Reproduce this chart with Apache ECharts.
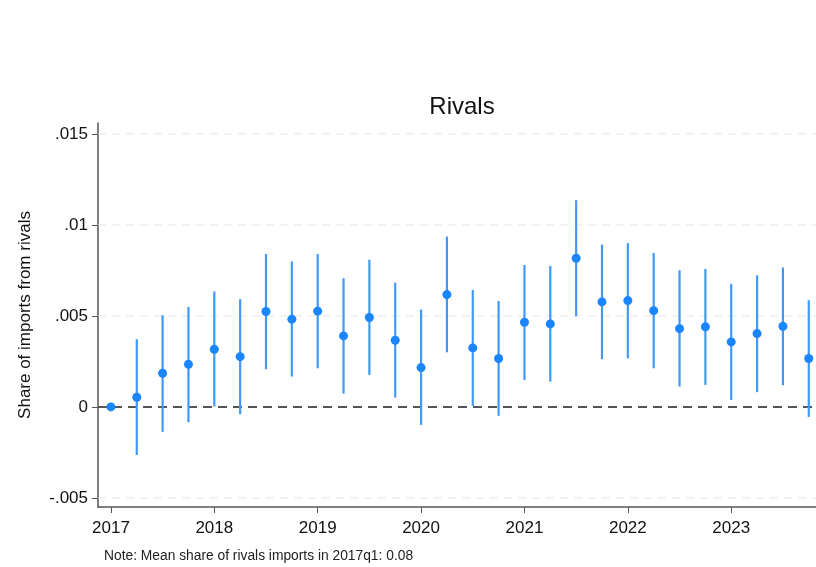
<!DOCTYPE html>
<html>
<head>
<meta charset="utf-8">
<script src="https://cdn.jsdelivr.net/npm/echarts@6/dist/echarts.min.js"></script>
<style>
  html, body { margin: 0; padding: 0; background: #fff; }
  #chart { width: 816px; height: 567px; }
</style>
</head>
<body>
<div id="chart"></div>
<script>
// quarters 2017q1 .. 2023q4 as decimal years
var quarters = [
  2017.00, 2017.25, 2017.50, 2017.75,
  2018.00, 2018.25, 2018.50, 2018.75,
  2019.00, 2019.25, 2019.50, 2019.75,
  2020.00, 2020.25, 2020.50, 2020.75,
  2021.00, 2021.25, 2021.50, 2021.75,
  2022.00, 2022.25, 2022.50, 2022.75,
  2023.00, 2023.25, 2023.50, 2023.75
];
// point estimates
var coef = [
  0.0000, 0.00053, 0.00185, 0.00234,
  0.00317, 0.00276, 0.00524, 0.00482,
  0.00526, 0.00390, 0.00491, 0.00366,
  0.00216, 0.00617, 0.00324, 0.00266,
  0.00465, 0.00456, 0.00817, 0.00577,
  0.00584, 0.00529, 0.00430, 0.00440,
  0.00357, 0.00403, 0.00443, 0.00266
];
// confidence interval bounds
var ciLow = [
  0.0000, -0.00264, -0.00137, -0.00084,
  0.00002, -0.00040, 0.00207, 0.00167,
  0.00212, 0.00073, 0.00176, 0.00051,
  -0.00099, 0.00300, 0.00005, -0.00049,
  0.00148, 0.00139, 0.00498, 0.00262,
  0.00267, 0.00212, 0.00112, 0.00121,
  0.00038, 0.00081, 0.00119, -0.00055
];
var ciHigh = [
  0.0000, 0.00372, 0.00504, 0.00549,
  0.00634, 0.00592, 0.00840, 0.00799,
  0.00840, 0.00707, 0.00809, 0.00683,
  0.00535, 0.00936, 0.00643, 0.00582,
  0.00780, 0.00775, 0.01136, 0.00892,
  0.00900, 0.00846, 0.00751, 0.00758,
  0.00676, 0.00723, 0.00766, 0.00586
];
var yearTicks = [2017, 2018, 2019, 2020, 2021, 2022, 2023];
var yTicks = [-0.005, 0, 0.005, 0.01, 0.015];
var gridValues = [-0.005, 0.005, 0.01, 0.015];
var refValue = [0];

var fontFam = "'Liberation Sans', Arial, sans-serif";

var myChart = echarts.init(document.getElementById("chart"));

var ciData = [];
var pointData = [];
for (var i = 0; i < quarters.length; i++) {
  ciData.push([quarters[i], ciLow[i], ciHigh[i]]);
  pointData.push([quarters[i], coef[i]]);
}

function fmtY(v) {
  if (Math.abs(v) < 1e-9) return "0";
  var s = String(+v.toFixed(4));
  return s.replace("0.", ".");
}

// horizontal line across the plot at a y value
function hLine(color, dash, width) {
  return function (params, api) {
    var cs = params.coordSys;
    var p = api.coord([2017, api.value(0)]);
    return {
      type: "line",
      shape: { x1: cs.x, y1: p[1], x2: cs.x + cs.width, y2: p[1] },
      style: { stroke: color, lineWidth: width, lineDash: dash }
    };
  };
}

var option = {
  backgroundColor: "#fff",
  animation: false,
  title: {
    text: "Rivals",
    left: 457,
    top: 90,
    textAlign: "center",
    textStyle: { fontFamily: fontFam, fontSize: 24, fontWeight: "normal", color: "#111" }
  },
  grid: { left: 98, right: 0, top: 123, bottom: 60 },
  xAxis: {
    type: "value",
    min: 2016.875,
    max: 2023.82,
    axisLine: { show: true, onZero: false, lineStyle: { color: "#555", width: 1.5 } },
    axisTick: { show: true, length: 6, customValues: yearTicks, lineStyle: { color: "#555" } },
    axisLabel: {
      customValues: yearTicks,
      margin: 13,
      fontFamily: fontFam,
      fontSize: 17,
      color: "#111",
      formatter: function (v) { return String(Math.round(v)); }
    },
    splitLine: { show: false }
  },
  yAxis: {
    type: "value",
    min: -0.0055,
    max: 0.0156,
    name: "Share of imports from rivals",
    nameLocation: "middle",
    nameGap: 64,
    nameTextStyle: { fontFamily: fontFam, fontSize: 17, color: "#111" },
    axisLine: { show: true, onZero: false, lineStyle: { color: "#555", width: 1.5 } },
    axisTick: { show: true, length: 6, customValues: yTicks, lineStyle: { color: "#555" } },
    axisLabel: {
      customValues: yTicks,
      margin: 10,
      fontFamily: fontFam,
      fontSize: 17,
      color: "#111",
      formatter: fmtY
    },
    splitLine: { show: false }
  },
  series: [
    {
      type: "custom",
      data: gridValues.map(function (v) { return [v]; }),
      silent: true,
      z: 1,
      encode: { y: 0 },
      renderItem: hLine("#e4e4e4", [8, 6], 1)
    },
    {
      type: "custom",
      data: refValue.map(function (v) { return [v]; }),
      silent: true,
      z: 2,
      encode: { y: 0 },
      renderItem: hLine("#555", [9, 6], 2)
    },
    {
      type: "custom",
      data: ciData,
      z: 3,
      renderItem: function (params, api) {
        var top = api.coord([api.value(0), api.value(2)]);
        var bot = api.coord([api.value(0), api.value(1)]);
        return {
          type: "line",
          shape: { x1: top[0], y1: top[1], x2: bot[0], y2: bot[1] },
          style: { stroke: "#3f99f8", lineWidth: 2.2 }
        };
      },
      encode: { x: 0, y: [1, 2] }
    },
    {
      type: "scatter",
      data: pointData,
      symbol: "circle",
      symbolSize: 9,
      itemStyle: { color: "#1a85ff", opacity: 1 },
      z: 4
    }
  ],
  graphic: [
    {
      type: "text",
      left: 104,
      top: 549,
      style: {
        text: "Note: Mean share of rivals imports in 2017q1: 0.08",
        fontFamily: fontFam,
        fontSize: 13.8,
        fill: "#222"
      }
    }
  ]
};

myChart.setOption(option);
</script>
</body>
</html>
